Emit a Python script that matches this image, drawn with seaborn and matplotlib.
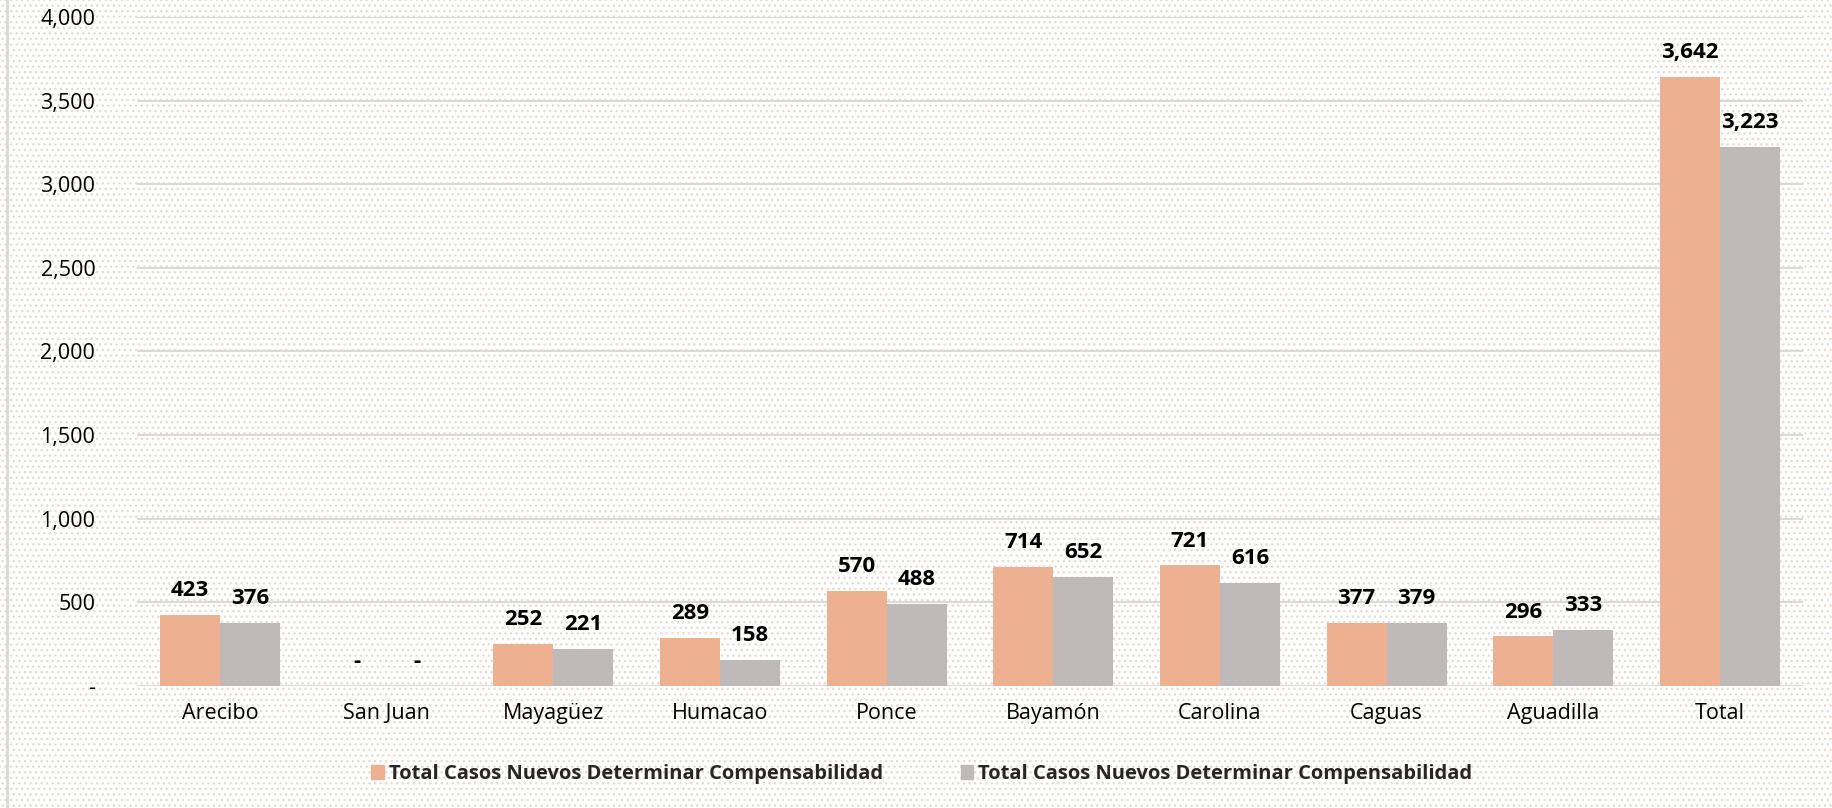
import numpy as np
import pandas as pd
import seaborn as sns
import matplotlib.pyplot as plt
from matplotlib.patches import Rectangle
from matplotlib.lines import Line2D
from matplotlib.ticker import FuncFormatter

# -------- Data --------
regions = ["Arecibo", "San Juan", "Mayagüez", "Humacao", "Ponce",
           "Bayamón", "Carolina", "Caguas", "Aguadilla", "Total"]
serie_a = [423, 0, 252, 289, 570, 714, 721, 377, 296, 3642]
serie_b = [376, 0, 221, 158, 488, 652, 616, 379, 333, 3223]
legend_labels = ["Total Casos Nuevos Determinar Compensabilidad",
                 "Total Casos Nuevos Determinar Compensabilidad"]
colors = ["#EDB191", "#BFB9B9"]

df = pd.DataFrame({
    "region": regions * 2,
    "casos": serie_a + serie_b,
    "serie": ["A"] * len(regions) + ["B"] * len(regions),
})

# -------- Figure --------
sns.set_theme(style="white")
plt.rcParams["font.family"] = ["Open Sans", "DejaVu Sans"]

fig = plt.figure(figsize=(18.33, 8.08), dpi=100)
fig.patch.set_facecolor("white")
# dotted background
fig.patches.append(Rectangle((0, 0), 1, 1, transform=fig.transFigure,
                             facecolor="white", edgecolor="#E6DBD0",
                             hatch="...", linewidth=0, zorder=-10))
fig.add_artist(Line2D([0.004, 0.004], [0, 1], transform=fig.transFigure,
                      color="#D9D9D9", linewidth=2))

ax = fig.add_axes([0.0747, 0.151, 0.909, 0.828])
ax.patch.set_alpha(0)

sns.barplot(data=df, x="region", y="casos", hue="serie",
            palette=colors, width=0.72, saturation=1, ax=ax,
            legend=False, linewidth=0, zorder=3)

for cont in ax.containers:
    labels = ["-" if v == 0 else f"{int(v):,}" for v in cont.datavalues]
    ax.bar_label(cont, labels=labels, padding=10, fontsize=16,
                 fontweight="bold", color="black")

ax.set_ylim(0, 4000)
ax.set_xlim(-0.5, len(regions) - 0.5)
ax.set_yticks(np.arange(0, 4001, 500))
ax.yaxis.set_major_formatter(FuncFormatter(lambda v, p: "-" if v == 0 else f"{int(v):,}"))
ax.grid(axis="y", color="#D9D9D9", linewidth=1.5, zorder=0)
ax.set_axisbelow(True)
for s in ax.spines.values():
    s.set_visible(False)
ax.tick_params(axis="both", length=0, labelsize=15.5, colors="black")
ax.tick_params(axis="y", pad=30)
ax.tick_params(axis="x", pad=12)
ax.set_xlabel("")
ax.set_ylabel("")

handles = [Rectangle((0, 0), 1, 1, color=c) for c in colors]
leg = fig.legend(handles, legend_labels, loc="center", bbox_to_anchor=(0.503, 0.042),
                 ncol=2, frameon=False, handlelength=0.6, handleheight=0.7,
                 handletextpad=0.25, columnspacing=3.9,
                 prop={"weight": "bold", "size": 14.5})

fig.savefig("out.png", dpi=100)
